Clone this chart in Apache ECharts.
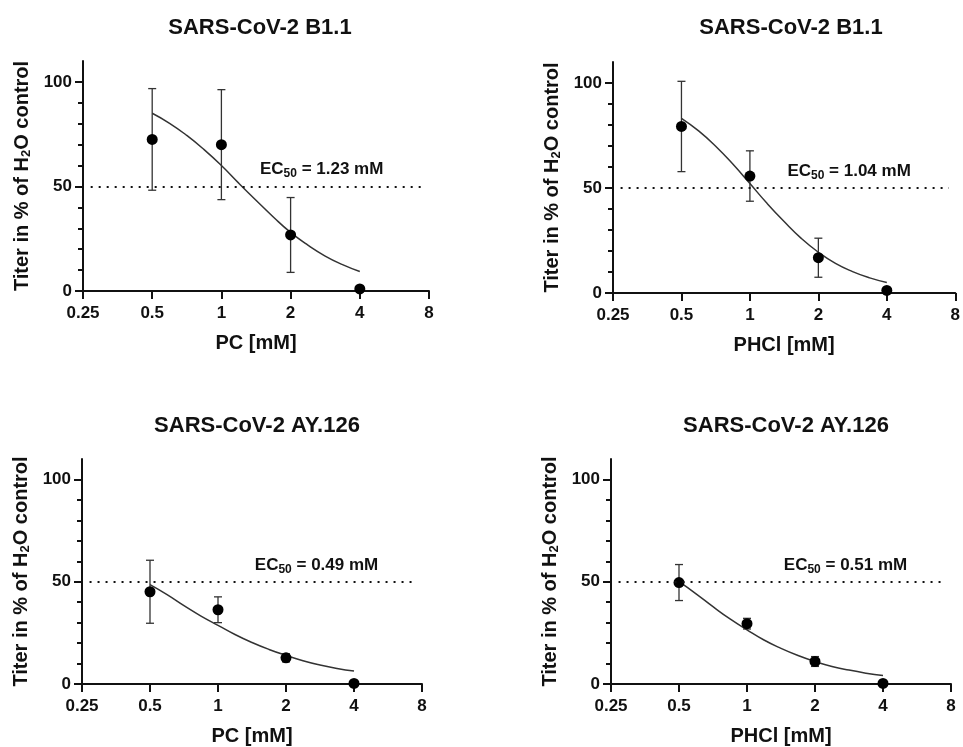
<!DOCTYPE html>
<html style="height: 100%">
<head>
<meta charset="utf-8">
<title>EC50 titer curves</title>
<script src="https://cdn.jsdelivr.net/npm/echarts@6/dist/echarts.min.js"></script>
</head>
<body style="margin: 0; background: #fff">
<div id="main" style="width: 963px; height: 747px;"></div>
<script type="text/javascript">

// concentrations (mM) of the measured points
var DOSE = [0.5, 1, 2, 4];

// mean titer and SD, % of H2O control
var PC_B11_MEAN = [72.5, 70, 26.8, 1];
var PC_B11_SD = [24.3, 26.3, 17.9, 0];
var PHCL_B11_MEAN = [79.3, 55.7, 16.8, 1.2];
var PHCL_B11_SD = [21.5, 12, 9.3, 0];
var PC_AY_MEAN = [45.1, 36.3, 12.8, 0.3];
var PC_AY_SD = [15.4, 6.3, 2, 0];
var PHCL_AY_MEAN = [49.6, 29.5, 11, 0.3];
var PHCL_AY_SD = [8.8, 2.6, 2.4, 0];

// fitted curves (quarter-octave steps)
var CURVE_X = [0.5, 0.595, 0.707, 0.841, 1, 1.189, 1.414, 1.682, 2, 2.378, 2.828, 3.364, 4];
var PC_B11_FIT = [85, 80.2, 74.4, 67.6, 60, 51.6, 43.4, 35.4, 28, 21.9, 16.7, 12.6, 9.3];
var PHCL_B11_FIT = [83.2, 77.2, 69.9, 61.4, 52.1, 42.7, 34, 26, 19.4, 14.1, 10.2, 7.2, 5];
var PC_AY_FIT = [48.6, 43.7, 38.3, 33.2, 28.7, 24.2, 20.3, 16.9, 14, 11.4, 9.3, 7.6, 6.3];
var PHCL_AY_FIT = [50, 44.1, 37.8, 31.8, 26.5, 21.5, 17.4, 13.9, 11, 8.6, 6.8, 5.3, 4.1];

var EC50 = ['1.23', '1.04', '0.49', '0.51'];
var TITLES = ['SARS-CoV-2 B1.1', 'SARS-CoV-2 B1.1', 'SARS-CoV-2 AY.126', 'SARS-CoV-2 AY.126'];
var XNAMES = ['PC [mM]', 'PHCl [mM]', 'PC [mM]', 'PHCl [mM]'];
var Y_MAJOR = [0, 50, 100];
var Y_MINOR = [10, 20, 30, 40, 60, 70, 80, 90];
var THRESHOLD = 50;

var panels = [
    {mean: PC_B11_MEAN, sd: PC_B11_SD, fit: PC_B11_FIT},
    {mean: PHCL_B11_MEAN, sd: PHCL_B11_SD, fit: PHCL_B11_FIT},
    {mean: PC_AY_MEAN, sd: PC_AY_SD, fit: PC_AY_FIT},
    {mean: PHCL_AY_MEAN, sd: PHCL_AY_SD, fit: PHCL_AY_FIT}
];

var grids = [
    {left: 83, top: 61, width: 346, height: 230},
    {left: 613, top: 62, width: 346, height: 231},
    {left: 82, top: 459, width: 340, height: 226},
    {left: 611, top: 459, width: 340, height: 226}
];
var titlePos = [[255, 12], [786, 12], [252, 410], [781, 410]];

var FONT = 'Liberation Sans, Arial, sans-serif';
var INK = '#111';
var LINE = '#333';

var option = {
    backgroundColor: '#fff',
    animation: false,
    title: [],
    grid: grids,
    xAxis: [],
    yAxis: [],
    series: []
};

panels.forEach(function (p, i) {
    option.title.push({
        text: TITLES[i],
        left: titlePos[i][0],
        top: titlePos[i][1],
        textAlign: 'center',
        textStyle: {fontFamily: FONT, fontSize: 22, fontWeight: 'bold', color: INK}
    });
    option.xAxis.push({
        gridIndex: i,
        type: 'log',
        logBase: 2,
        min: 0.25,
        max: 8,
        name: XNAMES[i],
        nameLocation: 'middle',
        nameGap: 42,
        nameTextStyle: {fontFamily: FONT, fontSize: 20, fontWeight: 'bold', color: INK, verticalAlign: 'top'},
        axisLine: {lineStyle: {color: INK, width: 2}},
        axisTick: {length: 8, lineStyle: {color: INK, width: 2}},
        axisLabel: {margin: 14, fontFamily: FONT, fontSize: 17, fontWeight: 'bold', color: INK},
        splitLine: {show: false},
        minorTick: {show: false}
    });
    // main y axis with labels
    option.yAxis.push({
        gridIndex: i,
        type: 'value',
        min: 0,
        max: 110,
        position: 'left',
        name: '{a|Titer in % of H}{s|2}{a|O control}',
        nameLocation: 'middle',
        nameRotate: 90,
        nameGap: 50,
        nameTextStyle: {
            fontFamily: FONT, fontSize: 20, fontWeight: 'bold', color: INK,
            rich: {
                a: {fontFamily: FONT, fontSize: 20, fontWeight: 'bold', color: INK, lineHeight: 22},
                s: {fontFamily: FONT, fontSize: 13, fontWeight: 'bold', color: INK, lineHeight: 12, verticalAlign: 'bottom'}
            }
        },
        axisLine: {show: true, lineStyle: {color: INK, width: 2}},
        axisTick: {show: true, length: 8, customValues: Y_MAJOR, lineStyle: {color: INK, width: 2}},
        axisLabel: {margin: 11, customValues: Y_MAJOR, fontFamily: FONT, fontSize: 17, fontWeight: 'bold', color: INK},
        splitLine: {show: false}
    });
    // second y axis only for minor ticks
    option.yAxis.push({
        gridIndex: i,
        type: 'value',
        min: 0,
        max: 110,
        position: 'left',
        axisLine: {show: false},
        axisTick: {show: true, length: 5, customValues: Y_MINOR, lineStyle: {color: INK, width: 2}},
        axisLabel: {show: false},
        splitLine: {show: false}
    });

    var bars = DOSE.map(function (d, k) {
        return [d, p.mean[k] - p.sd[k], p.mean[k] + p.sd[k]];
    }).filter(function (b) { return b[2] > b[1]; });

    option.series.push({
        type: 'custom',
        xAxisIndex: i,
        yAxisIndex: i * 2,
        data: bars,
        z: 2,
        renderItem: function (params, api) {
            var lo = api.coord([api.value(0), api.value(1)]);
            var hi = api.coord([api.value(0), api.value(2)]);
            var w = 4;
            var st = {stroke: LINE, lineWidth: 1.3};
            return {
                type: 'group',
                children: [
                    {type: 'line', shape: {x1: lo[0], y1: lo[1], x2: hi[0], y2: hi[1]}, style: st},
                    {type: 'line', shape: {x1: hi[0] - w, y1: hi[1], x2: hi[0] + w, y2: hi[1]}, style: st},
                    {type: 'line', shape: {x1: lo[0] - w, y1: lo[1], x2: lo[0] + w, y2: lo[1]}, style: st}
                ]
            };
        }
    });

    option.series.push({
        type: 'line',
        xAxisIndex: i,
        yAxisIndex: i * 2,
        data: CURVE_X.map(function (x, k) { return [x, p.fit[k]]; }),
        smooth: true,
        showSymbol: false,
        z: 3,
        lineStyle: {color: LINE, width: 1.5},
        markLine: {
            silent: true,
            symbol: 'none',
            label: {show: false},
            lineStyle: {color: INK, width: 2, type: [2, 6]},
            data: [[{coord: [0.27, THRESHOLD]}, {coord: [7.5, THRESHOLD]}]]
        },
        markPoint: {
            symbol: 'circle',
            symbolSize: 0,
            label: {
                show: true,
                formatter: '{a|EC}{s|50}{a| = ' + EC50[i] + ' mM}',
                rich: {
                    a: {fontFamily: FONT, fontSize: 17, fontWeight: 'bold', color: INK, lineHeight: 20},
                    s: {fontFamily: FONT, fontSize: 12, fontWeight: 'bold', color: INK, lineHeight: 11, verticalAlign: 'bottom'}
                }
            },
            data: [{coord: [2.73, 58]}]
        }
    });

    option.series.push({
        type: 'scatter',
        xAxisIndex: i,
        yAxisIndex: i * 2,
        data: DOSE.map(function (d, k) { return [d, p.mean[k]]; }),
        symbol: 'circle',
        symbolSize: 11,
        z: 4,
        itemStyle: {color: '#000', opacity: 1}
    });
});

var chart = echarts.init(document.getElementById('main'));
chart.setOption(option);

</script>
</body>
</html>
